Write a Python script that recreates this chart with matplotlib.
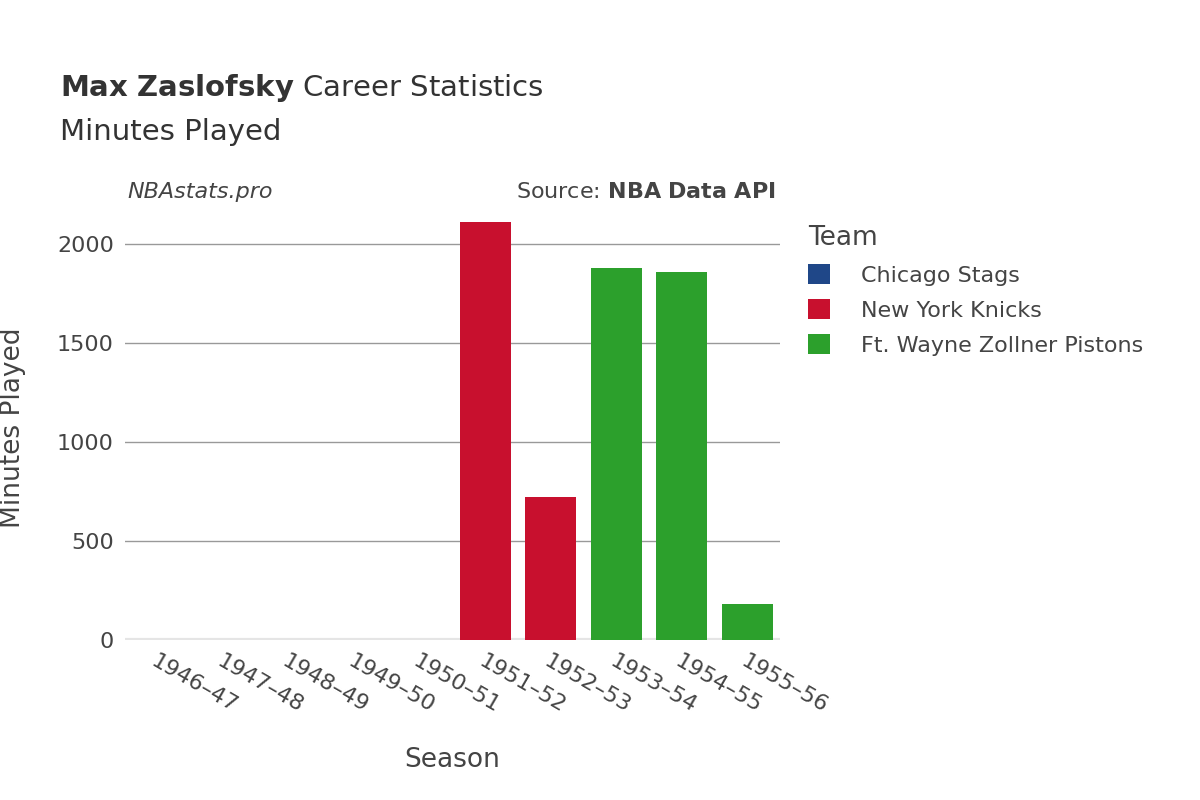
import matplotlib
matplotlib.use("Agg")
import matplotlib.pyplot as plt

seasons = ["1946–47","1947–48","1948–49","1949–50","1950–51","1951–52","1952–53","1953–54","1954–55","1955–56"]
teams = ["Chicago Stags","New York Knicks","Ft. Wayne Zollner Pistons"]
colors = ["#1f4788","#c8102e","#2ca02c"]
chicago = [0,0,0,0,0,0,0,0,0,0]
knicks = [0,0,0,0,0,2110,720,0,0,0]
pistons = [0,0,0,0,0,0,0,1880,1860,180]

plt.rcParams["font.family"] = "DejaVu Sans"
fig = plt.figure(figsize=(12,8), dpi=100)
ax = fig.add_axes([125/1200, 160/800, 655/1200, 425/800])
x = range(len(seasons))
for vals, c, t in zip([chicago, knicks, pistons], colors, teams):
    ax.bar(x, vals, width=0.78, color=c, label=t, zorder=3)
ax.set_xlim(-0.5, 9.5)
ax.set_ylim(0, 2146)
ax.set_yticks([0,500,1000,1500,2000])
ax.set_yticklabels(["0","500","1000","1500","2000"], fontsize=16, color="#444")
ax.grid(axis="y", color="#999", lw=1, zorder=0)
ax.axhline(0, color="#e5e5e5", lw=3, zorder=2)
for s in ax.spines.values():
    s.set_visible(False)
ax.tick_params(length=0, pad=8)
ax.set_xticks(list(x))
ax.set_xticklabels(seasons, rotation=-30, ha="left", rotation_mode="anchor", fontsize=16, color="#444")
ax.set_xlabel("Season", fontsize=19, color="#444", labelpad=22)
ax.set_ylabel("Minutes Played", fontsize=19, color="#444", labelpad=22)

fig.text(60/1200, 1-88/800, r"$\bf{Max\ Zaslofsky}$ Career Statistics", fontsize=21, color="#333", va="center")
fig.text(60/1200, 1-132/800, "Minutes Played", fontsize=21, color="#333", va="center")
fig.text(127/1200, 1-192/800, "NBAstats.pro", fontsize=16, style="italic", color="#444", va="center")
fig.text(776/1200, 1-192/800, r"Source: $\bf{NBA\ Data\ API}$", fontsize=16, color="#444", va="center", ha="right")

leg = fig.legend(loc="upper left", bbox_to_anchor=(788/1200, 1-205/800), frameon=False,
                 title="Team", fontsize=16, title_fontsize=19, handlelength=1.0, handleheight=1.0,
                 labelcolor="#444", alignment="left", handletextpad=1.4, labelspacing=0.6)
leg.get_title().set_color("#444")
fig.savefig("out.png")
